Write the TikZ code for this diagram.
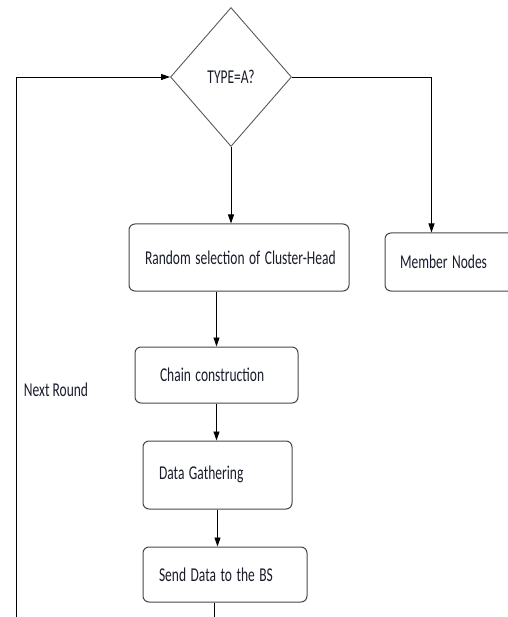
\documentclass[tikz,border=0pt]{standalone}
\usepackage{fontspec}
\setmainfont{Carlito}
\usetikzlibrary{shapes.geometric,arrows.meta}
\definecolor{txt}{RGB}{25,28,42}
\definecolor{edge}{RGB}{70,70,70}
\newcommand{\tall}[1]{\scalebox{1}[1.45]{#1}}
\tikzset{
  box/.style={draw=edge, line width=1pt, rounded corners=6pt, align=left, inner xsep=16pt, inner ysep=0pt, text=txt},
  flow/.style={draw=black, line width=0.9pt, -{Triangle[length=9pt,width=6pt]}},
  plain/.style={draw=black, line width=0.9pt}
}
\begin{document}
\begin{tikzpicture}[x=1pt, y=-1pt, font=\fontsize{13.5}{16}\selectfont]
\useasboundingbox (0,0) rectangle (507,617);
\node[diamond, draw=black!65, line width=0.9pt, minimum width=121pt, minimum height=139pt, inner sep=0pt, text=txt] (type) at (231,77) {\tall{TYPE=A?}};
\node[box, text width=188pt, minimum height=67pt, align=center] (rand) at (239,257.5) {\raisebox{-4pt}{\tall{Random selection of Cluster-Head}}};
\node[box, text width=105pt, inner xsep=15pt, minimum height=58pt] (member) at (452.5,262) {\tall{Member Nodes}};
\node[box, inner xsep=25pt, text width=113pt, minimum height=56pt] (chain) at (216.5,375) {\tall{Chain construction}};
\node[box, text width=117pt, minimum height=68pt] (data) at (217.5,475) {\raisebox{5pt}{\tall{Data Gathering}}};
\node[box, text width=132pt, minimum height=55pt] (send) at (225,574.5) {\tall{Send Data to the BS}};
\node[text=txt] (next) at (56,390) {\tall{Next Round}};
\coordinate (loop) at (16,617);
\coordinate (tail) at (214,617);
\draw[flow] (loop) |- (type.west);
\draw[flow] (type.east) -| ([xshift=47pt]member.north west);
\draw[flow] (type.south) -- (type.south |- rand.north);
\draw[flow] (rand.south -| chain.north) -- (chain.north);
\draw[flow] (chain.south) -- (chain.south |- data.north);
\draw[flow] (data.south) -- (data.south |- send.north);
\draw[plain] (send.south -| tail) -- (tail);
\end{tikzpicture}
\end{document}
